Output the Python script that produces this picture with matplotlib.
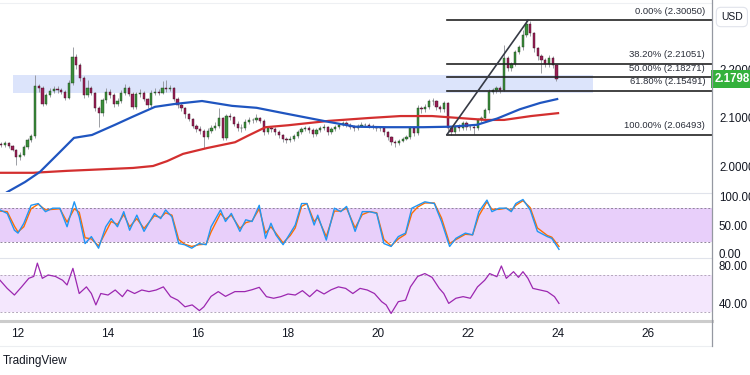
import numpy as np
import matplotlib
matplotlib.use("Agg")
import matplotlib.pyplot as plt
import matplotlib.transforms as mtransforms
from matplotlib.lines import Line2D

plt.rcParams['font.family'] = ['Liberation Sans', 'DejaVu Sans']

# --- price data: 2-hour candles, time in days of the month ---
candle_start = 11.63
candle_step = 2 / 24
first_open = 2.045
closes = [
    2.043, 2.047, 2.041, 2.033, 2.018, 2.023, 2.039, 2.054, 2.062, 2.165,
    2.161, 2.128, 2.146, 2.155, 2.159, 2.157, 2.153, 2.140, 2.171, 2.225,
    2.208, 2.181, 2.146, 2.161, 2.151, 2.120, 2.109, 2.136, 2.153, 2.146,
    2.128, 2.134, 2.151, 2.161, 2.149, 2.122, 2.149, 2.151, 2.138, 2.126,
    2.151, 2.153, 2.151, 2.161, 2.159, 2.161, 2.138, 2.126, 2.120, 2.107,
    2.097, 2.083, 2.076, 2.072, 2.060, 2.072, 2.078, 2.083, 2.099, 2.058,
    2.103, 2.101, 2.087, 2.078, 2.078, 2.091, 2.095, 2.095, 2.099, 2.093,
    2.070, 2.078, 2.076, 2.070, 2.064, 2.056, 2.054, 2.056, 2.062, 2.070,
    2.076, 2.078, 2.074, 2.066, 2.074, 2.078, 2.080, 2.070, 2.076, 2.080,
    2.085, 2.089, 2.085, 2.080, 2.078, 2.083, 2.085, 2.085, 2.083, 2.080,
    2.078, 2.078, 2.070, 2.060, 2.049, 2.047, 2.052, 2.056, 2.060, 2.078,
    2.068, 2.120, 2.118, 2.122, 2.134, 2.134, 2.122, 2.118, 2.130, 2.078,
    2.070, 2.080, 2.078, 2.089, 2.080, 2.080, 2.078, 2.095, 2.099, 2.115,
    2.153, 2.157, 2.161, 2.157, 2.223, 2.202, 2.210, 2.235, 2.245, 2.270,
    2.293, 2.274, 2.243, 2.227, 2.219, 2.210, 2.223, 2.208, 2.1798,
]
highs = [
    2.050, 2.052, 2.050, 2.044, 2.036, 2.028, 2.043, 2.058, 2.066, 2.188,
    2.170, 2.164, 2.150, 2.160, 2.165, 2.164, 2.160, 2.156, 2.178, 2.245,
    2.230, 2.212, 2.185, 2.177, 2.165, 2.153, 2.124, 2.140, 2.160, 2.158,
    2.150, 2.140, 2.156, 2.170, 2.165, 2.152, 2.153, 2.158, 2.154, 2.140,
    2.156, 2.160, 2.158, 2.175, 2.178, 2.168, 2.163, 2.142, 2.130, 2.122,
    2.110, 2.100, 2.086, 2.082, 2.076, 2.078, 2.084, 2.090, 2.120, 2.102,
    2.108, 2.110, 2.104, 2.092, 2.086, 2.096, 2.102, 2.100, 2.108, 2.102,
    2.096, 2.082, 2.083, 2.080, 2.074, 2.066, 2.060, 2.062, 2.066, 2.074,
    2.080, 2.083, 2.082, 2.078, 2.078, 2.082, 2.086, 2.083, 2.080, 2.084,
    2.089, 2.093, 2.092, 2.088, 2.084, 2.087, 2.090, 2.089, 2.088, 2.086,
    2.083, 2.082, 2.080, 2.072, 2.062, 2.053, 2.056, 2.060, 2.064, 2.082,
    2.082, 2.126, 2.124, 2.127, 2.138, 2.140, 2.137, 2.126, 2.134, 2.132,
    2.080, 2.084, 2.086, 2.093, 2.092, 2.085, 2.084, 2.099, 2.104, 2.120,
    2.158, 2.161, 2.165, 2.164, 2.249, 2.226, 2.215, 2.240, 2.250, 2.280,
    2.3005, 2.300, 2.276, 2.246, 2.230, 2.222, 2.228, 2.226, 2.210,
]
lows = [
    2.040, 2.040, 2.038, 2.030, 2.002, 2.012, 2.020, 2.036, 2.050, 2.058,
    2.152, 2.124, 2.125, 2.142, 2.150, 2.150, 2.148, 2.136, 2.138, 2.166,
    2.200, 2.176, 2.140, 2.142, 2.146, 2.114, 2.080, 2.104, 2.130, 2.140,
    2.122, 2.124, 2.130, 2.146, 2.144, 2.118, 2.118, 2.142, 2.134, 2.120,
    2.122, 2.146, 2.146, 2.148, 2.152, 2.154, 2.134, 2.120, 2.114, 2.100,
    2.092, 2.078, 2.070, 2.066, 2.037, 2.056, 2.068, 2.074, 2.078, 2.054,
    2.054, 2.094, 2.082, 2.072, 2.070, 2.074, 2.086, 2.088, 2.090, 2.088,
    2.064, 2.066, 2.070, 2.064, 2.058, 2.050, 2.048, 2.050, 2.052, 2.058,
    2.066, 2.072, 2.068, 2.060, 2.062, 2.070, 2.074, 2.064, 2.066, 2.072,
    2.076, 2.082, 2.080, 2.076, 2.072, 2.074, 2.080, 2.080, 2.078, 2.076,
    2.072, 2.072, 2.064, 2.054, 2.044, 2.040, 2.044, 2.050, 2.054, 2.056,
    2.062, 2.064, 2.110, 2.112, 2.118, 2.126, 2.116, 2.112, 2.112, 2.072,
    2.0649, 2.066, 2.072, 2.074, 2.074, 2.074, 2.066, 2.074, 2.090, 2.094,
    2.110, 2.148, 2.150, 2.150, 2.154, 2.196, 2.196, 2.206, 2.230, 2.240,
    2.265, 2.268, 2.236, 2.218, 2.192, 2.204, 2.205, 2.202, 2.176,
]

# moving averages (blue = faster, red = slower)
ma_fast_days = [11.756, 12.156, 12.489, 12.911, 13.244, 13.644, 14.156, 14.533, 15.044, 15.489,
                16.089, 16.756, 17.3, 17.9, 18.9, 19.5, 20.2, 21.0, 21.6, 22.2,
                22.65, 23.15, 23.6, 23.98]
ma_fast = [1.946, 1.967, 1.988, 2.027, 2.058, 2.064, 2.085, 2.101, 2.122, 2.128,
           2.134, 2.124, 2.120, 2.109, 2.091, 2.081, 2.080, 2.080, 2.081, 2.085,
           2.098, 2.117, 2.130, 2.138]
ma_slow_days = [11.6, 12.333, 13.089, 14.556, 15.0, 15.311, 15.667, 16.2, 16.822, 17.1,
                17.5, 18.0, 18.9, 19.8, 20.5, 21.2, 21.8, 22.4, 22.8, 23.4, 24.0]
ma_slow = [1.986, 1.986, 1.990, 1.996, 2.000, 2.010, 2.025, 2.037, 2.049, 2.062,
           2.080, 2.084, 2.093, 2.099, 2.103, 2.103, 2.099, 2.095, 2.095, 2.103, 2.109]

# fibonacci retracement
fib_pcts = ["0.00%", "38.20%", "50.00%", "61.80%", "100.00%"]
fib_prices = [2.30050, 2.21051, 2.18271, 2.15491, 2.06493]
fib_start_day = 21.533
fib_end_day = 27.42
fib_label_day = 27.27
swing_top_day = 23.333

zone_days = [11.889, 24.778]
zone_prices = [2.150, 2.188]
last_price = 2.1798

# stochastic
stoch_days = [11.6, 11.76, 11.92, 12.0, 12.13, 12.29, 12.45, 12.61, 12.77, 12.93,
              13.09, 13.25, 13.36, 13.49, 13.63, 13.79, 13.95, 14.07, 14.21, 14.35,
              14.48, 14.64, 14.8, 15.03, 15.17, 15.28, 15.42, 15.57, 15.7, 15.86,
              16.02, 16.18, 16.29, 16.5, 16.61, 16.74, 16.93, 17.06, 17.2, 17.36,
              17.5, 17.62, 17.73, 17.89, 18.05, 18.16, 18.3, 18.42, 18.58, 18.66,
              18.85, 19.03, 19.17, 19.3, 19.49, 19.65, 19.81, 19.97, 20.13, 20.29,
              20.45, 20.61, 20.75, 20.88, 21.04, 21.25, 21.41, 21.59, 21.73, 21.94,
              22.1, 22.24, 22.42, 22.53, 22.69, 22.85, 22.96, 23.06, 23.22, 23.38,
              23.54, 23.76, 23.86, 24.02]
stoch_k = [76, 70, 41, 36, 53, 84, 87, 73, 79, 79,
           47, 90, 64, 18, 30, 10, 47, 61, 47, 73,
           41, 67, 39, 70, 61, 76, 64, 18, 16, 10,
           18, 16, 47, 76, 56, 70, 39, 59, 56, 84,
           27, 53, 33, 16, 36, 50, 87, 87, 50, 67,
           24, 79, 73, 82, 39, 73, 73, 70, 18, 13,
           30, 36, 79, 84, 90, 87, 56, 13, 27, 36,
           33, 73, 93, 73, 79, 79, 73, 87, 94, 76,
           39, 30, 27, 8]
stoch_d = [74, 73, 48, 38, 47, 78, 86, 76, 77, 78,
           55, 78, 72, 28, 26, 14, 38, 56, 51, 68,
           47, 61, 44, 66, 63, 71, 67, 25, 17, 13,
           16, 17, 38, 70, 60, 67, 44, 54, 57, 78,
           36, 47, 36, 19, 32, 45, 82, 87, 56, 63,
           30, 74, 74, 79, 45, 68, 73, 71, 25, 14,
           26, 34, 70, 81, 88, 88, 62, 18, 25, 34,
           33, 66, 90, 77, 77, 79, 75, 84, 92, 80,
           45, 32, 29, 13]

# RSI
rsi_days = [11.6, 11.76, 11.92, 12.08, 12.24, 12.35, 12.43, 12.54, 12.67, 12.83,
            12.99, 13.09, 13.22, 13.36, 13.52, 13.63, 13.73, 13.84, 14.0, 14.16,
            14.32, 14.43, 14.59, 14.75, 14.91, 15.07, 15.23, 15.39, 15.55, 15.71,
            15.87, 16.03, 16.13, 16.29, 16.45, 16.61, 16.82, 17.04, 17.2, 17.36,
            17.52, 17.68, 17.84, 18.0, 18.16, 18.32, 18.48, 18.64, 18.8, 18.96,
            19.12, 19.28, 19.44, 19.6, 19.76, 19.92, 20.08, 20.18, 20.29, 20.45,
            20.61, 20.72, 20.88, 21.04, 21.2, 21.36, 21.46, 21.57, 21.73, 21.89,
            22.05, 22.21, 22.37, 22.48, 22.64, 22.74, 22.85, 23.01, 23.12, 23.22,
            23.33, 23.44, 23.6, 23.76, 23.92, 24.02]
rsi = [64, 55.4, 48.4, 57, 66, 68, 82, 66, 69.5, 68,
       64, 59, 76.5, 50, 57, 50, 38, 50, 48.4, 53.7,
       46.7, 53.7, 50, 53.7, 52, 53.7, 57, 46.7, 43, 36,
       38, 32, 36, 47, 52, 47, 52, 52, 54, 56.5,
       46.7, 45, 46.7, 49.5, 48.4, 53, 46.7, 53.7, 49.5, 54,
       57, 55.4, 50, 55.4, 53.7, 50, 41.4, 38, 29, 41.4,
       43, 57, 68, 71, 67, 55.4, 50, 39.6, 45, 46.7,
       45, 57, 64, 71, 67.7, 79, 66, 73, 67, 73,
       66, 55.4, 53.7, 52, 46.7, 39.6]

price_ticks = [2.0, 2.1, 2.2]
stoch_ticks = [0, 50, 100]
rsi_ticks = [40, 80]
day_ticks = [12, 14, 16, 18, 20, 22, 24, 26]

# --- layout in pixels ---
W, H = 750, 375
fig = plt.figure(figsize=(W / 100, H / 100), dpi=100)
fig.patch.set_facecolor('white')


def px_axes(x0, y0, x1, y1):
    return fig.add_axes([x0 / W, 1 - y1 / H, (x1 - x0) / W, (y1 - y0) / H])


def px_line(xs, ys, **kw):
    fig.add_artist(Line2D([x / W for x in xs], [1 - y / H for y in ys],
                          transform=fig.transFigure, **kw))


ax = px_axes(0, 3, 712, 192)
ax_st = px_axes(0, 193, 712, 257)
ax_rsi = px_axes(0, 258, 712, 320)

for a in (ax, ax_st, ax_rsi):
    a.set_xlim(11.6, 27.42)
    a.set_facecolor('none')
    for s in a.spines.values():
        s.set_visible(False)
    a.yaxis.tick_right()
    a.tick_params(axis='y', length=0, pad=5, labelsize=8.3, labelcolor='#131722')
    a.tick_params(axis='x', length=0)
    a.set_xticks([])

# main price panel
ax.set_ylim(1.9464, 2.3361)
ax.fill_between(zone_days, zone_prices[0], zone_prices[1], color='#dce4fb', lw=0, zorder=0)

n = len(closes)
days = candle_start + np.arange(n) * candle_step
c = np.array(closes)
o = np.array([first_open] + closes[:-1])
up = c >= o
ax.vlines(days, lows, highs, color='#8d8f96', lw=0.6, zorder=2)
ax.bar(days[up], (c - o)[up], bottom=o[up], width=0.05, color='#3b8f3b',
       edgecolor='#1c3a1c', lw=0.3, zorder=3)
ax.bar(days[~up], (c - o)[~up], bottom=o[~up], width=0.05, color='#9a1f55',
       edgecolor='#3a1022', lw=0.3, zorder=3)

ax.plot(ma_slow_days, ma_slow, color='#d32f2f', lw=1.6, zorder=4)
ax.plot(ma_fast_days, ma_fast, color='#1f55c0', lw=1.6, zorder=4)

for pct, p in zip(fib_pcts, fib_prices):
    ax.plot([fib_start_day, fib_end_day], [p, p], color='#222222', lw=1.2, zorder=5)
    ax.annotate(f"{pct} ({p:.5f})", xy=(fib_label_day, p), xytext=(0, 6.5),
                textcoords='offset points', ha='right', va='center',
                fontsize=6.8, color='#2a2e39', zorder=6)
ax.plot([fib_start_day, swing_top_day], [fib_prices[-1], fib_prices[0]],
        color='#363a45', lw=1.2, zorder=5)

ax.set_yticks(price_ticks)
ax.set_yticklabels([f"{v:.4f}" for v in price_ticks])

trans = mtransforms.blended_transform_factory(ax.transAxes, ax.transData)
ax.text(1.003, last_price, f"{last_price:.4f}", transform=trans, ha='left', va='center',
        fontsize=8.3, fontweight='bold', color='white', clip_on=False, zorder=10,
        bbox=dict(boxstyle='square,pad=0.25', fc='#34b13c', ec='none'))
fig.text(721 / W, 1 - 17 / H, "USD", fontsize=7.5, color='#131722', va='center',
         bbox=dict(boxstyle='round,pad=0.45', fc='white', ec='#e0e3eb', lw=0.8))

# stochastic panel
ax_st.set_ylim(-5.2, 105.2)
ax_st.axhspan(20, 80, color='#e8cffa', lw=0, zorder=0)
for lvl in (20, 80):
    ax_st.axhline(lvl, color='#8f8499', lw=0.7, ls=(0, (2, 2)), zorder=1)
ax_st.plot(stoch_days, stoch_k, color='#2196f3', lw=1.0, zorder=3)
ax_st.plot(stoch_days, stoch_d, color='#ff6d00', lw=1.0, zorder=2)
ax_st.set_yticks(stoch_ticks)
ax_st.set_yticklabels([f"{v:.2f}" for v in stoch_ticks])

# RSI panel
ax_rsi.set_ylim(22.1, 87.4)
ax_rsi.axhspan(30, 70, color='#f4e7fd', lw=0, zorder=0)
for lvl in (30, 70):
    ax_rsi.axhline(lvl, color='#b3a7bb', lw=0.7, ls=(0, (2, 2)), zorder=1)
ax_rsi.plot(rsi_days, rsi, color='#9c27b0', lw=0.9, zorder=3)
ax_rsi.set_yticks(rsi_ticks)
ax_rsi.set_yticklabels([f"{v:.2f}" for v in rsi_ticks])
ax_rsi.set_xticks(day_ticks)
ax_rsi.set_xticklabels([str(d) for d in day_ticks])
ax_rsi.tick_params(axis='x', pad=6, labelsize=8.5, labelcolor='#131722')

# panel separators and frame lines
px_line([0, 712], [3, 3], color='#eef0f3', lw=0.8)
px_line([0, 712], [192.5, 192.5], color='#e0e3eb', lw=0.8)
px_line([0, 712], [257.5, 257.5], color='#e0e3eb', lw=0.8)
px_line([0, 712], [321, 321], color='#cccccc', lw=2.2)
px_line([0, 712], [346, 346], color='#eceef1', lw=0.8)
px_line([712, 712], [0, 346], color='#9598a1', lw=0.9)

fig.text(3 / W, 1 - 361 / H, "TradingView", fontsize=8.5, color='#131722', va='center')

fig.savefig("out.png", dpi=100, facecolor='white')
